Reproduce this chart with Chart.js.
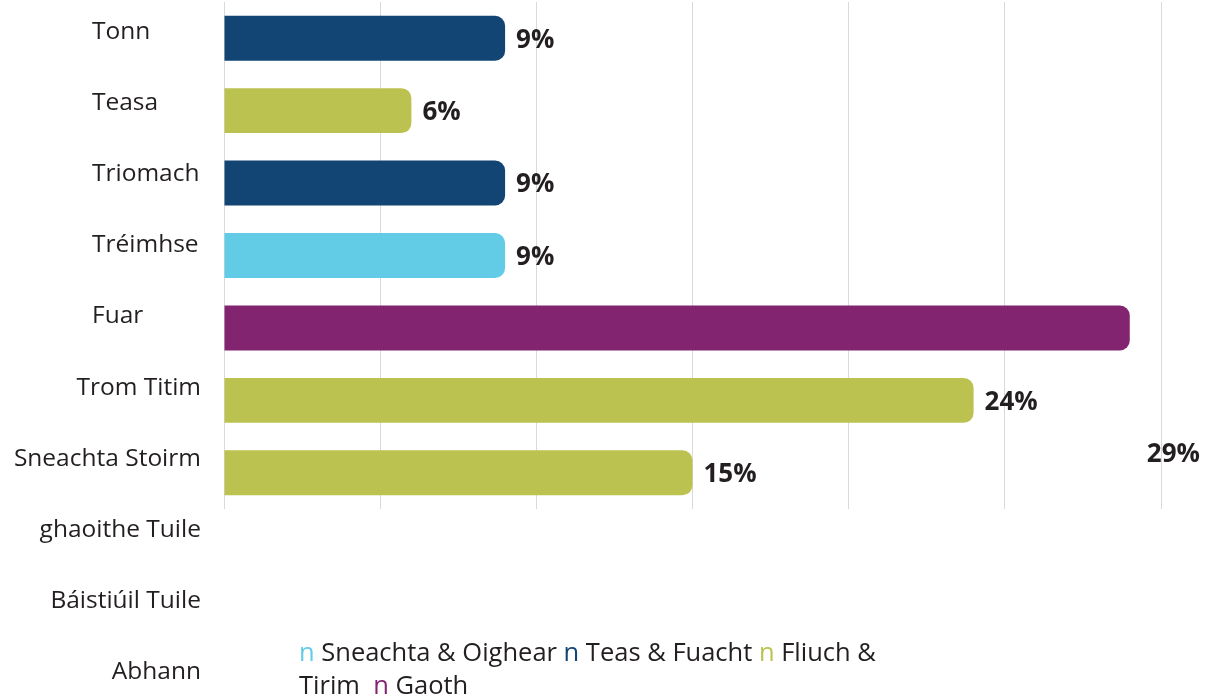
<!DOCTYPE html>
<html>
<head>
<meta charset="utf-8">
<script src="https://cdn.jsdelivr.net/npm/chart.js@4.4.1/dist/chart.umd.min.js"></script>
<style>
  html, body { margin: 0; padding: 0; background: #ffffff; }
  body { width: 1210px; height: 699px; position: relative; overflow: hidden; font-family: 'Open Sans', 'Noto Sans', sans-serif; color: #231f20; }
  #wrap { position: absolute; left: 0; top: 0; width: 1210px; height: 699px; }
  .cat { position: absolute; font-size: 24.5px; line-height: 30px; white-space: nowrap; }
  #legend { position: absolute; left: 299px; top: 635px; width: 605px; font-size: 25.5px; line-height: 33px; }
</style>
</head>
<body>
<div id="wrap"><canvas id="c" width="1210" height="699"></canvas></div>
<div id="cats"></div>
<div id="legend"></div>
<script>
// Category labels shown down the left side
const categoryLabels = ['Tonn', 'Teasa', 'Triomach', 'Tréimhse', 'Fuar', 'Trom Titim', 'Sneachta Stoirm', 'ghaoithe Tuile', 'Báistiúil Tuile', 'Abhann'];
// Bars (top to bottom)
const barNames = ['Tonn', 'Teasa', 'Triomach', 'Tréimhse', 'Fuar', 'Trom Titim', 'Sneachta Stoirm'];
const barValues = [9, 6, 9, 9, 29, 24, 15];
const barGroups = ['Teas & Fuacht', 'Fliuch & Tirim', 'Teas & Fuacht', 'Sneachta & Oighear', 'Gaoth', 'Fliuch & Tirim', 'Fliuch & Tirim'];
// Legend
const legendNames = ['Sneachta & Oighear', 'Teas & Fuacht', 'Fliuch & Tirim', 'Gaoth'];
const legendColors = ['#62cce6', '#124573', '#bbc250', '#82246f'];
const xTicks = [0, 5, 10, 15, 20, 25, 30];

const colorOf = g => legendColors[legendNames.indexOf(g)];

// left labels
const cats = document.getElementById('cats');
categoryLabels.forEach((t, i) => {
  const d = document.createElement('div');
  d.className = 'cat';
  d.textContent = t;
  const cy = 30 + i * 71.1;
  d.style.top = (cy - 15) + 'px';
  if (i < 5) { d.style.left = '92px'; }
  else { d.style.right = (1210 - 201) + 'px'; d.style.textAlign = 'right'; }
  cats.appendChild(d);
});

// legend
const lg = document.getElementById('legend');
lg.innerHTML = legendNames.map((n, i) =>
  '<span style="color:' + legendColors[i] + '">n</span> ' + n.replace(/&/g, '&amp;')
).join(' ').replace('Tirim <span', 'Tirim&nbsp; <span');

const valueLabels = {
  id: 'valueLabels',
  afterDatasetsDraw(chart) {
    const ctx = chart.ctx;
    const meta = chart.getDatasetMeta(0);
    const xs = chart.scales.x;
    const maxV = Math.max(...barValues);
    ctx.save();
    ctx.font = 'bold 26px "Open Sans", "Noto Sans", sans-serif';
    ctx.fillStyle = '#231f20';
    ctx.textBaseline = 'middle';
    ctx.textAlign = 'left';
    meta.data.forEach((bar, i) => {
      const v = barValues[i];
      let x = xs.getPixelForValue(v) + 11;
      let y = bar.y + 2;
      if (v === maxV) { x += 6; y += 125; }
      ctx.fillText(v + '%', x, y);
    });
    ctx.restore();
  }
};

new Chart(document.getElementById('c'), {
  type: 'bar',
  data: {
    labels: barNames,
    datasets: [{
      data: barValues,
      backgroundColor: barGroups.map(colorOf),
      borderRadius: 10,
      borderSkipped: 'start',
      categoryPercentage: 1,
      barPercentage: 0.62
    }]
  },
  options: {
    indexAxis: 'y',
    responsive: false,
    animation: false,
    devicePixelRatio: 1,
    layout: { padding: { left: 224, right: 49, top: 2, bottom: 190 } },
    plugins: { legend: { display: false }, tooltip: { enabled: false } },
    scales: {
      x: {
        min: 0, max: 30,
        afterBuildTicks: s => { s.ticks = xTicks.map(v => ({ value: v })); },
        ticks: { display: false },
        grid: { color: '#d9d9d9', lineWidth: 1, drawTicks: false },
        border: { display: false }
      },
      y: { display: false }
    }
  },
  plugins: [valueLabels]
});
</script>
</body>
</html>
